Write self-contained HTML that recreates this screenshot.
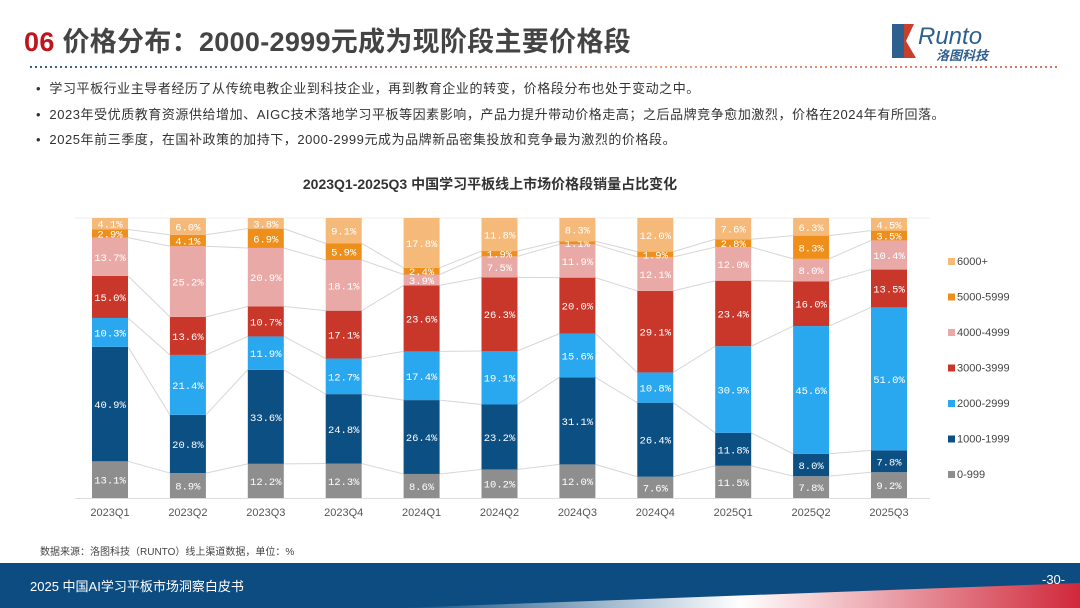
<!DOCTYPE html>
<html><head><meta charset="utf-8"><style>
body{margin:0;width:1080px;height:608px;overflow:hidden;background:#fff;font-family:"Liberation Sans","Noto Sans CJK SC",sans-serif;position:relative}
.abs{position:absolute}
</style></head><body>
<div class="abs" style="left:24px;top:20px;font-size:27px;font-weight:bold;color:#444;white-space:nowrap;letter-spacing:0.3px"><span style="color:#c0141c">06</span> 价格分布：2000-2999元成为现阶段主要价格段</div>
<div class="abs" style="left:888px;top:22px;width:150px;height:40px">
<svg width="150" height="40"><polygon points="4,2 16,2 16,36 4,36" fill="#2d5f8f"/><polygon points="16,2 26,2 18,19 28,36 16,36" fill="#c8402b"/>
<text x="30" y="22" font-size="24" font-style="italic" fill="#2d5f8f" font-family="Liberation Sans">Runto</text>
<text x="48" y="38" font-size="13" font-weight="bold" font-style="italic" fill="#2d5f8f" font-family="Liberation Sans, Noto Sans CJK SC, sans-serif">洛图科技</text></svg></div>
<div class="abs" style="left:30px;top:66px;width:1030px;height:2px;background:repeating-linear-gradient(90deg,transparent 0 2px,#fff 2px 5px),linear-gradient(90deg,#2d5f8f,#e8a080 60%,#e07060)"></div>
<div class="abs" style="left:36px;top:76px;font-size:13px;letter-spacing:0.55px;color:#333;line-height:25.5px;white-space:nowrap">
<div>•&nbsp;&nbsp;学习平板行业主导者经历了从传统电教企业到科技企业，再到教育企业的转变，价格段分布也处于变动之中。</div>
<div>•&nbsp;&nbsp;2023年受优质教育资源供给增加、AIGC技术落地学习平板等因素影响，产品力提升带动价格走高；之后品牌竞争愈加激烈，价格在2024年有所回落。</div>
<div>•&nbsp;&nbsp;2025年前三季度，在国补政策的加持下，2000-2999元成为品牌新品密集投放和竞争最为激烈的价格段。</div></div>
<div class="abs" style="left:0;width:980px;top:174px;text-align:center;font-size:14px;font-weight:bold;color:#333">2023Q1-2025Q3 中国学习平板线上市场价格段销量占比变化</div>
<svg class="abs" style="left:0;top:0" width="1080" height="608" id="chart"></svg>
<div class="abs" style="left:40px;top:543px;font-size:10px;color:#444">数据来源：洛图科技（RUNTO）线上渠道数据，单位：%</div>
<div class="abs" style="left:0;top:563px;width:1080px;height:45px;background:#0d4c80"></div>
<svg class="abs" style="left:0;top:563px" width="1080" height="45"><defs><linearGradient id="sw" x1="0" x2="1"><stop offset="0" stop-color="#fff" stop-opacity="0"/><stop offset="0.5" stop-color="#fff"/><stop offset="1" stop-color="#d0283a"/></linearGradient></defs><polygon points="400,45 1080,20 1080,45" fill="url(#sw)"/></svg>
<div class="abs" style="left:30px;top:576px;font-size:13px;color:#fff">2025 中国AI学习平板市场洞察白皮书</div>
<div class="abs" style="left:1042px;top:572px;font-size:13px;color:#fff">-30-</div>
<script>
const categories=["2023Q1","2023Q2","2023Q3","2023Q4","2024Q1","2024Q2","2024Q3","2024Q4","2025Q1","2025Q2","2025Q3"];
const seriesNames=["0-999","1000-1999","2000-2999","3000-3999","4000-4999","5000-5999","6000+"];
const s0=[13.1,8.9,12.2,12.3,8.6,10.2,12.0,7.6,11.5,7.8,9.2];
const s1=[40.9,20.8,33.6,24.8,26.4,23.2,31.1,26.4,11.8,8.0,7.8];
const s2=[10.3,21.4,11.9,12.7,17.4,19.1,15.6,10.8,30.9,45.6,51.0];
const s3=[15.0,13.6,10.7,17.1,23.6,26.3,20.0,29.1,23.4,16.0,13.5];
const s4=[13.7,25.2,20.9,18.1,3.9,7.5,11.9,12.1,12.0,8.0,10.4];
const s5=[2.9,4.1,6.9,5.9,2.4,1.9,1.1,1.9,2.8,8.3,3.5];
const s6=[4.1,6.0,3.8,9.1,17.8,11.8,8.3,12.0,7.6,6.3,4.5];
const series=[s0,s1,s2,s3,s4,s5,s6];
const colors=["#8e8e8e","#0b4f83","#2aa8ef","#c9372b","#e9aaa7","#ee8f1c","#f5b97a"];
const svg=document.getElementById('chart');const NS="http://www.w3.org/2000/svg";
const top0=218,bot=498,x0=110,step=77.9,bw=36;
const xc=i=>x0+i*step;
function mk(t,a){const e=document.createElementNS(NS,t);for(const k in a)e.setAttribute(k,a[k]);svg.appendChild(e);return e;}
const ax=mk('line',{x1:75,x2:930,y1:bot+0.5,y2:bot+0.5,stroke:'#ddd'});


const tl=mk('line',{x1:75,x2:930,y1:top0,y2:top0,stroke:'#eee'});


const cum=categories.map((c,i)=>{let t=0;const tot=series.reduce((a,s)=>a+s[i],0);return series.map(s=>{t+=s[i];return bot-(t/tot)*(bot-top0);});});
for(let i=0;i<categories.length-1;i++){for(let k=0;k<series.length-1;k++){
const l=mk('line',{x1:xc(i)+bw/2,x2:xc(i+1)-bw/2,y1:cum[i][k],y2:cum[i+1][k],stroke:'#d6d6d6','stroke-width':1});

}}
categories.forEach((c,i)=>{const tot=series.reduce((a,s)=>a+s[i],0);let yb=bot;
series.forEach((s,k)=>{const h=s[i]/tot*(bot-top0);const y=yb-h;
const r=mk('rect',{x:xc(i)-bw/2,y:y,width:bw,height:h,fill:colors[k]});


const t=mk('text',{x:xc(i),y:y+h/2+4,'text-anchor':'middle','font-size':10.5,fill:'#fff','font-family':'Liberation Mono, monospace'});
t.textContent=s[i].toFixed(1)+'%';


yb=y;});
const xl=mk('text',{x:xc(i),y:516,'text-anchor':'middle','font-size':11,fill:'#555'});xl.textContent=c;

});
for(let k=series.length-1;k>=0;k--){const y=265+(6-k)*35.5;
const r=mk('rect',{x:948,y:y-7,width:7,height:7,fill:colors[k]});


const t=mk('text',{x:957,y:y,'font-size':11,fill:'#444'});t.textContent=seriesNames[k];

}
</script>
</body></html>
